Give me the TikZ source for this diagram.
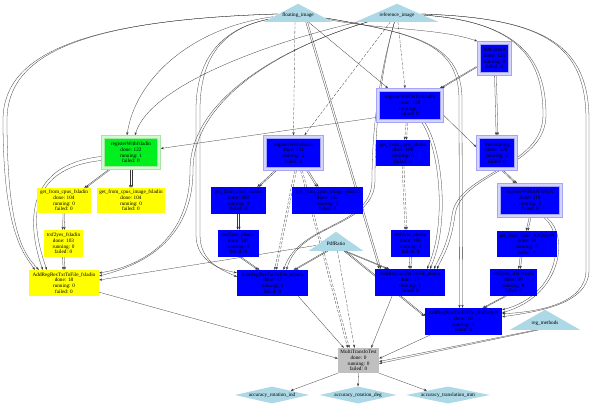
\documentclass[tikz,border=0pt]{standalone}
\usepackage{fontspec}
\setmainfont{Liberation Serif}
\usetikzlibrary{arrows.meta,shapes.geometric,backgrounds}
\definecolor{portblue}{RGB}{173,216,230}
\definecolor{runblue}{RGB}{0,0,255}
\definecolor{mapline}{RGB}{165,165,245}
\definecolor{mapband}{RGB}{212,212,255}
\definecolor{okgreen}{RGB}{0,240,30}
\definecolor{greenline}{RGB}{165,230,165}
\definecolor{greenband}{RGB}{205,255,205}
\definecolor{fslyellow}{RGB}{255,255,0}
\definecolor{idlegrey}{RGB}{192,192,192}
\definecolor{edgeink}{RGB}{55,55,55}
\newcommand{\jobfont}{\fontsize{5.2}{5.8}\selectfont}
\newcommand{\stat}[3]{done: #1\\running: #2\\failed: #3}
% two parallel links between the same pair of jobs
\newcommand{\twin}[5][]{%
  \foreach \tw in {-0.9,0.9}
    \draw[flow,#1] ([xshift={(#3)*1pt+(\tw)*1pt}]#2) -- ([xshift={(#5)*1pt+(\tw)*1pt}]#4);}
\tikzset{
  job/.style={rectangle, inner sep=0pt, align=center, font=\jobfont, text=black},
  fslbox/.style={job, fill=fslyellow},
  runbox/.style={job, fill=runblue},
  mapbox/.style={runbox, draw=mapline, double=mapband, double distance=2.6pt, line width=0.5pt, outer sep=1.8pt},
  mainbox/.style={job, fill=okgreen, draw=greenline, double=greenband, double distance=2.6pt, line width=0.5pt, outer sep=1.8pt},
  idlebox/.style={job, fill=idlegrey},
  inport/.style={isosceles triangle, isosceles triangle stretches, shape border rotate=90, fill=portblue, inner sep=0pt, anchor=south},
  outport/.style={diamond, fill=portblue, inner sep=0pt},
  portlbl/.style={font=\jobfont, inner sep=0pt},
  flow/.style={-{Stealth[length=3pt,width=2.2pt]}, draw=edgeink, line width=0.28pt},
  lazy/.style={flow, dash pattern=on 3pt off 1.5pt},
}

\begin{document}
\begin{tikzpicture}[x=1pt,y=-1pt]
  % ports
  \node[inport, minimum width=68pt, minimum height=18pt] (F) at (298,22) {};
  \node[portlbl] at (298,15.5) {floating\_image};
  \node[inport, minimum width=82pt, minimum height=18pt] (R) at (397,22) {};
  \node[portlbl] at (397,15.5) {reference\_image};
  \node[inport, minimum width=54pt, minimum height=19pt] (P) at (336,251) {};
  \node[portlbl] at (336,244) {PdfRatio};
  \node[inport, minimum width=70pt, minimum height=20pt] (M) at (545,330) {};
  \node[portlbl] at (545,323) {reg\_methods};
  \node[outport, minimum width=74pt, minimum height=17pt] (D1) at (272,395) {};
  \node[portlbl] at (D1) {accuracy\_rotation\_ind};
  \node[outport, minimum width=77pt, minimum height=17pt] (D2) at (358,395) {};
  \node[portlbl] at (D2) {accuracy\_rotation\_deg};
  \node[outport, minimum width=84pt, minimum height=17pt] (D3) at (448,395) {};
  \node[portlbl] at (D3) {accuracy\_translation\_mm};

  % fsladin jobs
  \node[mainbox, minimum width=56pt, minimum height=31pt] (G) at (131,152.5) {registerWithfsladin\\\stat{122}{1}{0}};
  \node[fslbox, minimum width=54pt, minimum height=25pt] (gcf) at (64,200.5) {get\_from\_cpus\_fsladin\\\stat{104}{0}{0}};
  \node[fslbox, minimum width=68pt, minimum height=25pt] (gci) at (131,200.5) {get\_from\_cpus\_image\_fsladin\\\stat{104}{0}{0}};
  \node[fslbox, minimum width=39pt, minimum height=27pt] (trsf) at (63.5,243.5) {trsf2yes\_fsladin\\\stat{103}{0}{0}};
  \node[fslbox, minimum width=70pt, minimum height=26pt] (AddF) at (64,283) {AddRegResTxtToFile\_fsladin\\\stat{18}{0}{0}};

  % elastix jobs
  \node[mapbox, minimum width=57pt, minimum height=32pt] (n3) at (293.5,153) {registerWithelastix\\\stat{121}{2}{0}};
  \node[runbox, minimum width=55pt, minimum height=27pt] (n6) at (238.5,200.5) {get\_from\_cpus\_elastix\\\stat{102}{0}{0}};
  \node[runbox, minimum width=71pt, minimum height=27pt] (n7) at (327.5,200.5) {get\_from\_cpus\_image\_elastix\\\stat{102}{1}{0}};
  \node[runbox, minimum width=41pt, minimum height=27pt] (n9) at (238.5,243.5) {trsf2yes\_elastix\\\stat{101}{0}{0}};
  \node[runbox, minimum width=71pt, minimum height=26pt] (n12) at (272.5,283) {AddRegResTxtToFile\_elastix\\\stat{17}{1}{0}};

  % aladin jobs
  \node[mapbox, minimum width=64pt, minimum height=31pt] (n2) at (410,105.5) {registerWithNiftyAladin\\\stat{120}{2}{0}};
  \node[runbox, minimum width=54pt, minimum height=26pt] (n4) at (403,153) {get\_from\_cpus\_aladin\\\stat{100}{0}{0}};
  \node[runbox, minimum width=39pt, minimum height=27pt] (n10) at (410.5,243.5) {trsf2yes\_aladin\\\stat{100}{0}{0}};
  \node[runbox, minimum width=70pt, minimum height=27pt] (n13) at (410,282.5) {AddRegResTxtToFile\_aladin\\\stat{17}{1}{0}};

  % ANTs jobs
  \node[mapbox, minimum width=31pt, minimum height=31pt] (n1) at (494.5,58.5) {N4Correct\\\stat{123}{0}{0}};
  \node[mapbox, minimum width=38pt, minimum height=32pt] (n5) at (497,153) {Resampling\\\stat{123}{0}{0}};
  \node[mapbox, minimum width=62pt, minimum height=31pt] (n8) at (530,200.5) {registerWithANTsSyN\\\stat{119}{3}{0}};
  \node[runbox, minimum width=60pt, minimum height=26pt] (n11) at (527,244) {get\_from\_cpus\_ANTsSyN\\\stat{99}{0}{0}};
  \node[runbox, minimum width=47pt, minimum height=27pt] (n14) at (513.5,282.5) {trsf2yes\_ANTsSyN\\\stat{99}{0}{0}};
  \node[runbox, minimum width=77pt, minimum height=27pt] (n15) at (463.5,321.5) {AddRegResTxtToFile\_ANTsSyN\\\stat{16}{1}{0}};

  \node[idlebox, minimum width=41pt, minimum height=25pt] (MTT) at (358.5,360.5) {MultiTransfoTest\\\stat{0}{0}{0}};

  \begin{scope}[on background layer]
    \fill[white] (0,0) rectangle (594,411);
    % fsladin links
    \draw[flow] (F) .. controls (190,28) and (135,80) .. ([xshift=-4pt]G.north);
    \draw[flow] (R) .. controls (270,42) and (150,85) .. ([xshift=4pt]G.north);
    \foreach \d in {0,4}
      \draw[flow] (F) .. controls (80,20) and (3+\d,55) .. (3+\d,120) .. controls (3+\d,235) and (25,255) .. ([xshift=6pt+\d pt]AddF.north west);
    \foreach \d in {0,4}
      \draw[flow] ([yshift=-4pt-\d pt]G.west) .. controls (24,165+\d) and (27+\d,225) .. ([xshift=14pt+\d pt]AddF.north west);
    \twin{G.south west}{8}{gcf.north east}{-6}
    \twin{G.south}{0}{gci.north}{0}
    \twin{gcf.south}{0}{trsf.north}{0}
    \twin{trsf.south}{0}{AddF.north}{0}
    \foreach \d in {0,3}
      \draw[flow] (R) .. controls (280,48) and (190+\d,100) .. (190+\d,170) .. controls (190+\d,248) and (130,268) .. ([yshift=10pt-\d pt]AddF.east);
    \draw[flow] (P) -- ([yshift=3pt]AddF.east);
    \draw[flow] ([yshift=4pt]AddF.south east) -- ([yshift=2pt]MTT.west);
    % elastix links
    \draw[lazy] ([xshift=-3pt]F.south) -- (n3.north);
    \draw[lazy] (R) -- ([xshift=11pt]n3.north);
    \twin{n3.south}{-18}{n6.north east}{-8}
    \twin{n3.south}{14}{n7.north}{-10}
    \twin{n6.south}{0}{n9.north}{0}
    \twin{n9.south}{2}{n12.north}{-14}
    \twin[lazy]{n3.south}{2}{n12.north}{3}
    \twin[lazy]{n3.south}{8}{MTT.north}{-10}
    \twin{P.south west}{0}{n12.north}{22}
    \foreach \d in {0,4}
      \draw[flow] (F) .. controls (225,28) and (196+\d,55) .. (196+\d,110) -- (196+\d,235) .. controls (196+\d,262) and (222,270) .. ([yshift=-3pt-\d pt]n12.north west);
    \foreach \d in {0,3}
      \draw[flow] (R) .. controls (385,55) and (372+\d,110) .. (372+\d,180) .. controls (372+\d,228) and (300,222) .. ([xshift=11pt+\d pt]n12.north);
    \draw[flow] ([xshift=-10pt]n12.south east) -- ([xshift=6pt]MTT.north west);
    \draw[lazy] (P) -- ([xshift=-4pt]MTT.north);
    % aladin links
    \draw[flow] (F) -- ([xshift=-22pt]n2.north);
    \draw[lazy] (R) -- ([xshift=-5pt]n2.north);
    \draw[flow] (F) .. controls (380,30) and (440,28) .. (n1.north west);
    \twin{n1.205}{0}{n2.north east}{-3}
    \twin[lazy]{n2.south}{-3}{n4.north}{2.5}
    \twin[lazy]{n4.south}{0}{n10.north}{-4.5}
    \twin{n10.south}{0}{n13.north}{0}
    \foreach \d in {0,3}
      \draw[flow] ([xshift=12pt+\d pt]n2.south) .. controls (440+\d,150) and (447+\d,225) .. ([xshift=17pt+\d pt]n13.north);
    \foreach \d in {0,3}
      \draw[flow] (R) .. controls (520,22) and (543+\d,60) .. (543+\d,115) .. controls (543+\d,168) and (458+\d,172) .. (452+\d,215) .. controls (448+\d,245) and (440+\d,256) .. ([xshift=24pt+\d pt]n13.north);
    \draw[flow] ([yshift=-10pt]n2.east) -- ([yshift=6pt]n5.west);
    \draw[flow] ([yshift=-12pt]n2.west) -- ([yshift=4pt]G.east);
    \twin{F.south east}{0}{n13.north}{-30}
    \twin{P.south east}{0}{n13.north}{-22}
    \draw[flow] ([xshift=-18pt]n13.south) -- ([xshift=-8pt]MTT.north east);
    % ANTs links
    \twin{n1.south}{1}{n5.north}{0}
    \twin{n5.south}{6}{n8.north}{-14}
    \twin{n8.south}{0}{n11.north}{0}
    \twin{n11.south}{-6}{n14.north}{6}
    \twin{n14.south}{-8}{n15.north}{20}
    \foreach \d in {0,3}
      \draw[flow] ([xshift=14pt+\d pt]n8.south) .. controls (566+\d,235) and (560+\d,295) .. ([yshift=-2pt-\d pt]n15.north east);
    \foreach \d in {0,3}
      \draw[flow] (F) .. controls (420,34) and (459+\d,45) .. (459+\d,100) -- ([xshift=-4pt+\d pt]n15.north);
    \foreach \d in {0,3}
      \draw[flow] (R) .. controls (545,18) and (586+\d,45) .. (586+\d,120) -- (586+\d,270) .. controls (586+\d,305) and (535,312) .. ([yshift=-6pt-\d pt]n15.north east);
    \twin{P.south east}{0}{n15.172}{0}
    \draw[flow] ([xshift=5pt]n15.south west) -- ([yshift=2pt]MTT.east);
    \draw[flow] (M.south west) -- ([yshift=-1pt]MTT.east);
    \draw[flow] ([xshift=3pt]M.south west) -- ([yshift=-3pt]MTT.east);
    % results
    \draw[flow] (MTT.south west) -- (D1.north east);
    \draw[flow] (MTT.south) -- (D2.north);
    \draw[flow] (MTT.south east) -- (D3.north west);
  \end{scope}
\end{tikzpicture}
\end{document}
